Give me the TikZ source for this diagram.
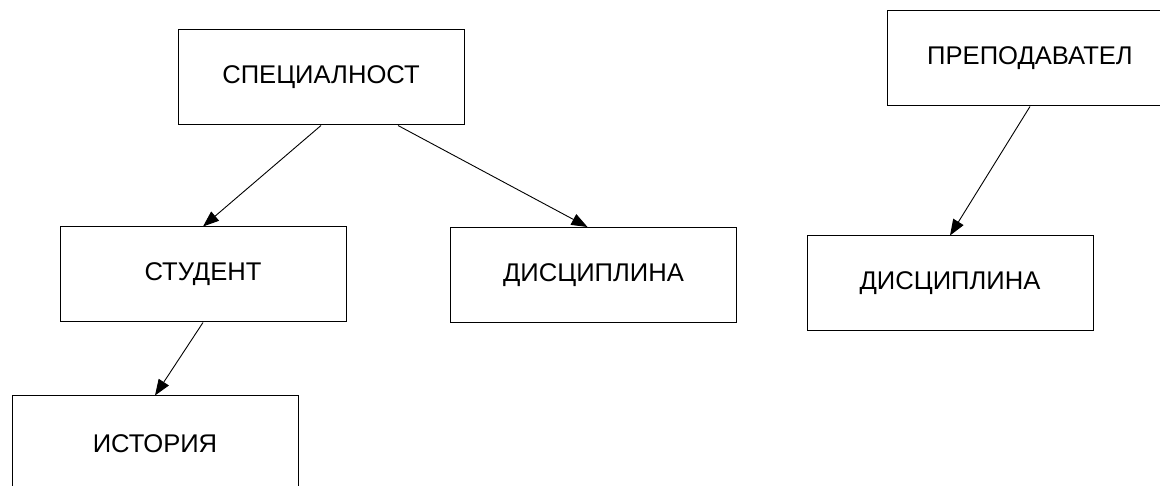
\documentclass[tikz,border=0pt]{standalone}
\usepackage{fontspec}
\setmainfont{Liberation Sans}
\usetikzlibrary{arrows.meta}
\tikzset{
  entity/.style={draw=black, line width=1pt, fill=white, rectangle,
    minimum width=286pt, minimum height=95pt, inner sep=0pt,
    font=\fontsize{25.6}{30}\selectfont},
  link/.style={draw=black, line width=0.9pt,
    -{Triangle[length=16pt,width=12pt]}}
}
\begin{document}
\begin{tikzpicture}[x=1pt,y=-1pt]
  \useasboundingbox (0,0) rectangle (1160,486);
  \clip (0,0) rectangle (1160,486);

  % entity boxes
  \node[entity] (spec)  at (321,77.5)  {СПЕЦИАЛНОСТ};
  \node[entity] (prep)  at (1030,58.5) {ПРЕПОДАВАТЕЛ};
  \node[entity] (stud)  at (203,274.5) {СТУДЕНТ};
  \node[entity] (disc)  at (593.5,275) {ДИСЦИПЛИНА};
  \node[entity] (discb) at (950,283.5) {ДИСЦИПЛИНА};
  \node[entity] (hist)  at (155,443.5) {ИСТОРИЯ};

  % relations
  \draw[link] (spec.south) -- (stud.north);
  \draw[link] ([xshift=77pt]spec.south) -- ([xshift=-6pt]disc.north);
  \draw[link] (prep.south) -- (discb.north);
  \draw[link] (stud.south) -- (hist.north);
\end{tikzpicture}
\end{document}
